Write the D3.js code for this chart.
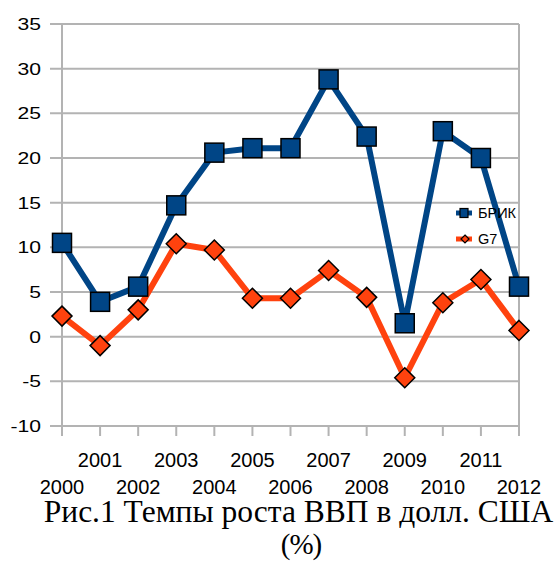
<!DOCTYPE html>
<html><head><meta charset="utf-8">
<script src="https://cdn.jsdelivr.net/npm/d3@7"></script>
<style>body{margin:0;background:#fff}svg{display:block}</style>
</head><body>
<svg id="c" width="560" height="562"></svg>
<script>
const years = ["2000","2001","2002","2003","2004","2005","2006","2007","2008","2009","2010","2011","2012"];
const bric = [10.5,3.9,5.6,14.7,20.6,21.1,21.1,28.8,22.4,1.5,23.0,20.0,5.6];
const g7 = [2.3,-1.0,3.0,10.4,9.7,4.3,4.3,7.4,4.4,-4.6,3.8,6.4,0.7];
const yTicks = [-10,-5,0,5,10,15,20,25,30,35];
const seriesNames = ["БРИК","G7"];
const colors = ["#004586","#ff420e"];
const title1 = "Рис.1 Темпы роста ВВП в долл. США";
const title2 = "(%)";

const svg = d3.select("#c");
const L = 62, R = 519, T = 24, B = 426;
const x = d3.scalePoint().domain(years).range([L, R]);
const y = d3.scaleLinear().domain([-10, 35]).range([B, T]);
const sans = "Liberation Sans, Arial, sans-serif";
const serif = "Liberation Serif, Times New Roman, serif";

// horizontal grid + y ticks
const gy = svg.append("g");
gy.selectAll("line").data(yTicks).join("line")
  .attr("x1", L - 12).attr("x2", R).attr("y1", d => y(d)).attr("y2", d => y(d))
  .attr("stroke", "#b3b3b3").attr("stroke-width", 2);
gy.selectAll("text").data(yTicks).join("text")
  .attr("transform", d => `translate(41,${y(d)}) scale(1.28,1)`)
  .attr("x", 0).attr("y", 0).attr("dy", "0.36em")
  .attr("text-anchor", "end").attr("font-family", sans)
  .attr("font-size", 16.5).attr("fill", "#000").text(d => d);

// axes lines
svg.append("line").attr("x1", L).attr("x2", L).attr("y1", T).attr("y2", B)
  .attr("stroke", "#b3b3b3").attr("stroke-width", 2);
svg.append("line").attr("x1", R).attr("x2", R).attr("y1", T).attr("y2", B + 10)
  .attr("stroke", "#b3b3b3").attr("stroke-width", 2);
// x ticks
svg.append("g").selectAll("line").data(years).join("line")
  .attr("x1", d => x(d)).attr("x2", d => x(d)).attr("y1", B).attr("y2", B + 10)
  .attr("stroke", "#b3b3b3").attr("stroke-width", 2);
svg.append("g").selectAll("text").data(years).join("text")
  .attr("x", d => x(d)).attr("y", (d, i) => i % 2 === 1 ? 467 : 494)
  .attr("text-anchor", "middle").attr("font-family", sans)
  .attr("font-size", 20).attr("fill", "#000").text(d => d);

// lines
const line = d3.line().x((d, i) => x(years[i])).y(d => y(d));
[bric, g7].forEach((s, k) => {
  svg.append("path").datum(s).attr("d", line).attr("fill", "none")
    .attr("stroke", colors[k]).attr("stroke-width", 6).attr("stroke-linejoin", "round");
});
// G7 markers (diamonds)
svg.append("g").selectAll("path").data(g7).join("path")
  .attr("transform", (d, i) => `translate(${x(years[i])},${y(d)})`)
  .attr("d", "M0,-10L10,0L0,10L-10,0Z")
  .attr("fill", colors[1]).attr("stroke", "#000").attr("stroke-width", 1.5);
// BRIC markers (squares)
svg.append("g").selectAll("rect").data(bric).join("rect")
  .attr("x", (d, i) => x(years[i]) - 9.5).attr("y", d => y(d) - 9.5)
  .attr("width", 19).attr("height", 19)
  .attr("fill", colors[0]).attr("stroke", "#000").attr("stroke-width", 1.5);

// legend
const lg = svg.append("g");
const ly = [213, 239];
ly.forEach((yy, k) => {
  lg.append("line").attr("x1", 456).attr("x2", 472).attr("y1", yy).attr("y2", yy)
    .attr("stroke", colors[k]).attr("stroke-width", 5);
  if (k === 0) {
    lg.append("rect").attr("x", 460).attr("y", yy - 4.5).attr("width", 8).attr("height", 9)
      .attr("fill", colors[0]).attr("stroke", "#000").attr("stroke-width", 1.2);
  } else {
    lg.append("path").attr("transform", `translate(465,${yy})`).attr("d", "M0,-4L4,0L0,4L-4,0Z")
      .attr("fill", colors[1]).attr("stroke", "#000").attr("stroke-width", 1.2);
  }
  lg.append("text").attr("x", 478).attr("y", yy).attr("dy", "0.36em")
    .attr("font-family", sans).attr("font-size", 14.5)
    .text(seriesNames[k]);
});

// title
svg.append("text").attr("x", 298.5).attr("y", 522).attr("text-anchor", "middle")
  .attr("font-family", serif).attr("font-size", 31.5)
  .text(title1);
svg.append("text").attr("x", 301).attr("y", 554).attr("text-anchor", "middle")
  .attr("font-family", serif).attr("font-size", 29).attr("letter-spacing", -1)
  .text(title2);
</script>
</body></html>
